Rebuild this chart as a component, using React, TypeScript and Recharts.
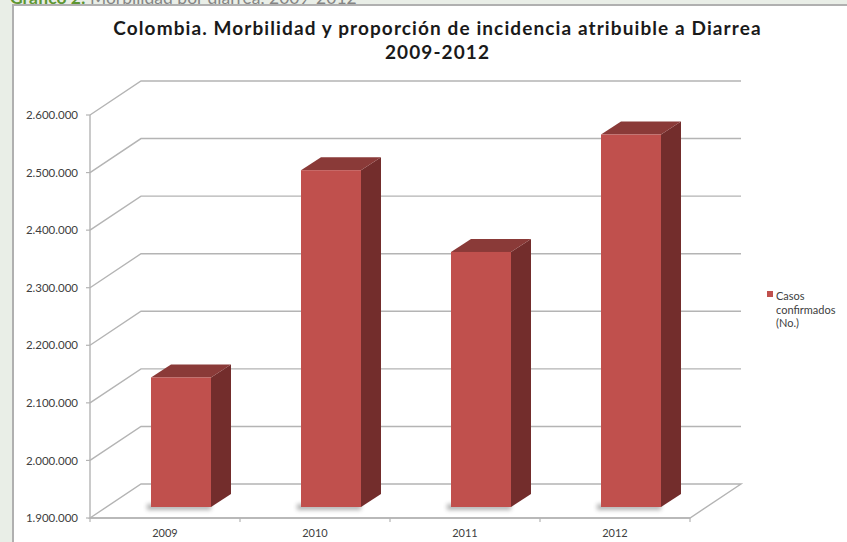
import React from 'react';
import { BarChart, Bar, XAxis, YAxis, CartesianGrid, Legend } from 'recharts';

// ---- data ----
const years = ['2009', '2010', '2011', '2012'];
const casosConfirmados = [2125000, 2485000, 2343000, 2547000];
const yTicks = [1900000, 2000000, 2100000, 2200000, 2300000, 2400000, 2500000, 2600000];
const seriesName = 'Casos confirmados (No.)';
const chartTitle = ['Colombia. Morbilidad y proporción de incidencia atribuible a Diarrea', '2009-2012'];
const headerBold = 'Gráfico 2:';
const headerText = 'Morbilidad por diarrea, 2009-2012';

const data = years.map((year, i) => ({ year, casos: casosConfirmados[i] }));

// ---- styles ----
const WALL_DX = 51;
const WALL_DY = -34;
const BAR_SHIFT_X = 16;
const BAR_SHIFT_Y = -11;
const BAR_DX = 20;
const BAR_DY = -13;
const FRONT = '#c0504d';
const TOP = '#8a3a38';
const SIDE = '#732d2c';
const GRID = '#b4b4b4';
const FONT = 'Lato, "Open Sans", sans-serif';

const fmt = (v: number) => String(v).replace(/\B(?=(\d{3})+(?!\d))/g, '.');

const renderGridLine = (p: any) => {
  const { x1, y1, x2, y, height, index } = p;
  const isFloor = height != null && y != null ? Math.abs(y1 - (y + height)) < 1 : index === 0;
  const d = isFloor
    ? `M${x1},${y1} L${x1 + WALL_DX},${y1 + WALL_DY} L${x2 + WALL_DX},${y1 + WALL_DY} L${x2},${y1} Z`
    : `M${x1},${y1} L${x1 + WALL_DX},${y1 + WALL_DY} L${x2 + WALL_DX},${y1 + WALL_DY}`;
  return <path key={`grid-${index}`} d={d} fill="none" stroke={GRID} strokeWidth={1.4} />;
};

const Bar3D = (p: any) => {
  const { x, y, width, height, fill, index } = p;
  if (!(height > 0)) return <g />;
  const fx = x + BAR_SHIFT_X;
  const fy = y + BAR_SHIFT_Y;
  const r = fx + width;
  const b = fy + height;
  return (
    <g>
      {index === 0 && (
        <defs>
          <filter id="barShadow" x="-50%" y="-200%" width="200%" height="500%">
            <feGaussianBlur stdDeviation="2" />
          </filter>
        </defs>
      )}
      <rect x={fx - 4} y={b - 3} width={width + 4} height={6} fill="#555" opacity={0.45} filter="url(#barShadow)" />
      <polygon
        points={`${r},${fy} ${r + BAR_DX},${fy + BAR_DY} ${r + BAR_DX},${b + BAR_DY} ${r},${b}`}
        fill={SIDE}
      />
      <polygon
        points={`${fx},${fy} ${fx + BAR_DX},${fy + BAR_DY} ${r + BAR_DX},${fy + BAR_DY} ${r},${fy}`}
        fill={TOP}
      />
      <rect x={fx} y={fy} width={width} height={height} fill={fill} />
    </g>
  );
};

const XTick = (p: any) => {
  const { x, y, payload, index, visibleTicksCount } = p;
  const half = payload && payload.offset ? payload.offset : 0;
  const last = visibleTicksCount != null ? index === visibleTicksCount - 1 : index === years.length - 1;
  return (
    <g>
      <line x1={x - half} y1={y} x2={x - half} y2={y + 4} stroke={GRID} strokeWidth={1.2} />
      {last && <line x1={x + half} y1={y} x2={x + half} y2={y + 4} stroke={GRID} strokeWidth={1.2} />}
      <text x={x} y={y + 19} textAnchor="middle" fill="#404040" fontSize={11} fontFamily={FONT}>
        {payload.value}
      </text>
    </g>
  );
};

const LegendContent = (p: any) => {
  const item = (p.payload && p.payload[0]) || { color: FRONT, value: seriesName };
  return (
    <div style={{ position: 'relative', fontFamily: FONT, fontSize: 11, lineHeight: '13.5px', color: '#404040' }}>
      <div style={{ position: 'absolute', left: 0, top: 2, width: 6, height: 6, background: item.color }} />
      <div style={{ marginLeft: 9, width: 66 }}>{item.value}</div>
    </div>
  );
};

export default function App() {
  return (
    <div
      style={{
        position: 'absolute',
        left: 0,
        top: 0,
        width: 847,
        height: 542,
        background: '#e9eee7',
        overflow: 'hidden',
        fontFamily: FONT,
      }}
    >
      <div style={{ position: 'absolute', left: 10, top: -11, fontSize: 17.5, lineHeight: '18px', whiteSpace: 'nowrap' }}>
        <span style={{ color: '#5e9632', fontWeight: 700 }}>{headerBold}</span>{' '}
        <span style={{ color: '#858585' }}>{headerText}</span>
      </div>
      <div
        style={{
          position: 'absolute',
          left: 12,
          top: 4,
          width: 840,
          height: 545,
          background: '#ffffff',
          borderLeft: '2px solid #b0b0b0',
          borderTop: '2px solid #b0b0b0',
        }}
      />
      <div
        style={{
          position: 'absolute',
          left: 60,
          top: 16,
          width: 755,
          textAlign: 'center',
          fontSize: 19,
          fontWeight: 700,
          letterSpacing: '1.1px',
          lineHeight: '24px',
          color: '#1a1a1a',
          whiteSpace: 'nowrap',
        }}
      >
        <div>{chartTitle[0]}</div>
        <div>{chartTitle[1]}</div>
      </div>
      <div style={{ position: 'absolute', left: 0, top: 0 }}>
        <BarChart width={847} height={542} data={data} margin={{ top: 115, right: 157, bottom: 0, left: 10 }}>
          <CartesianGrid horizontal={renderGridLine} vertical={false} stroke={GRID} />
          <YAxis
            type="number"
            domain={[1900000, 2600000]}
            ticks={yTicks}
            interval={0}
            width={80}
            tickFormatter={fmt}
            axisLine={{ stroke: GRID, strokeWidth: 1.4 }}
            tickLine={{ stroke: GRID, strokeWidth: 1.2 }}
            tickSize={4}
            tickMargin={8}
            tick={{ fill: '#404040', fontSize: 11.5, fontFamily: FONT }}
            allowDataOverflow
          />
          <XAxis
            dataKey="year"
            height={24}
            axisLine={{ stroke: GRID, strokeWidth: 1.4 }}
            tickLine={false}
            tickSize={0}
            tickMargin={0}
            interval={0}
            tick={<XTick />}
          />
          <Legend
            layout="vertical"
            align="center"
            verticalAlign="middle"
            wrapperStyle={{ position: 'absolute', left: 767, top: 289, width: 78 }}
            content={<LegendContent />}
          />
          <Bar
            dataKey="casos"
            name={seriesName}
            fill={FRONT}
            barSize={60}
            isAnimationActive={false}
            shape={<Bar3D />}
          />
        </BarChart>
      </div>
    </div>
  );
}
